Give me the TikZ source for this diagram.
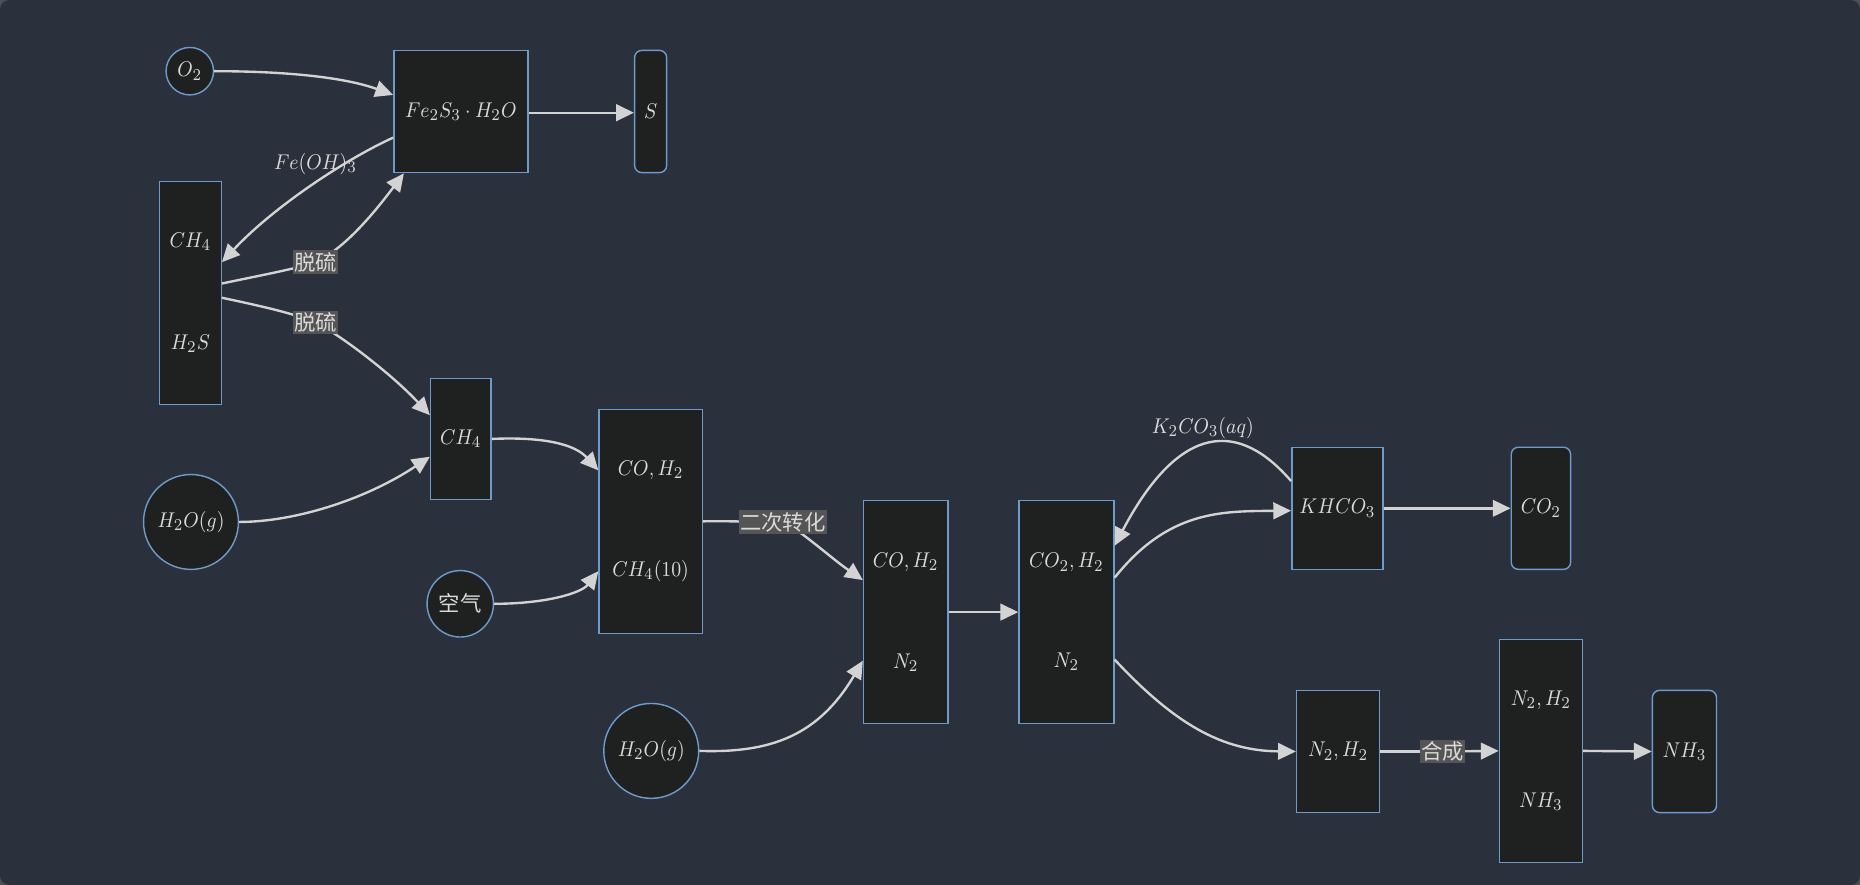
\documentclass[tikz,border=0pt]{standalone}
\usepackage{fontspec}
\newfontfamily\cjk{Noto Sans CJK SC}
\usetikzlibrary{arrows.meta,calc}
\definecolor{bgc}{HTML}{2A303C}
\definecolor{outerc}{HTML}{4A4F58}
\definecolor{nodef}{HTML}{1F2020}
\definecolor{nodeb}{HTML}{6E9BCB}
\definecolor{edgec}{HTML}{D3D3D3}
\definecolor{txtc}{HTML}{DADADA}
\definecolor{lblbg}{HTML}{555555}
\newcommand\fm[1]{\scalebox{0.9}[1]{$#1$}}
\tikzset{
  basebox/.style={draw=nodeb, fill=nodef, line width=0.6pt, inner sep=0pt,
    text=txtc, font=\fontsize{9.3}{10}\selectfont, align=center},
  sqbox/.style={basebox, rectangle},
  rbox/.style={basebox, rectangle, rounded corners=3pt},
  cbox/.style={basebox, circle},
  edge/.style={draw=edgec, line width=1pt, -{Triangle[length=7.5pt,width=7pt]}},
  plain/.style={draw=edgec, line width=1pt},
  elabel/.style={fill=lblbg, text=txtc, inner xsep=0.6pt, inner ysep=0.8pt,
    font=\cjk\fontsize{9}{10}\selectfont},
  mlabel/.style={text=txtc, inner sep=0pt, font=\fontsize{9.3}{10}\selectfont}
}
\begin{document}
\begin{tikzpicture}[x=0.5pt,y=-0.5pt]
\useasboundingbox (0,0) rectangle (1568,746);
\fill[outerc] (0,0) rectangle (1568,746);
\fill[bgc, rounded corners=4pt] (0,0) rectangle (1568,746);

% nodes
\node[cbox, minimum size=20pt] (o2) at (160,60) {\fm{O_2}};
\node[sqbox, minimum width=56.5pt, minimum height=51.5pt] (fe) at (388.5,94) {\fm{Fe_2S_3\cdot H_2O}};
\node[rbox, minimum width=13.5pt, minimum height=51.5pt] (s) at (548.5,94) {\fm{S}};
\node[sqbox, minimum width=26pt, minimum height=94pt] (gas) at (160.5,247) {\fm{CH_4}\\[33pt]\fm{H_2S}};
\node[sqbox, minimum width=25.5pt, minimum height=51pt] (ch4) at (388.5,370) {\fm{CH_4}};
\node[cbox, minimum size=40pt] (wa) at (161,440) {\fm{H_2O(g)}};
\node[sqbox, minimum width=43.5pt, minimum height=94.5pt] (co) at (548.5,439.5) {\fm{CO,H_2}\\[32.5pt]\fm{CH_4(10)}};
\node[cbox, minimum size=28pt, font=\cjk\fontsize{9}{10}\selectfont] (air) at (388,509) {空气};
\node[cbox, minimum size=40pt] (wb) at (549,633) {\fm{H_2O(g)}};
\node[sqbox, minimum width=35.5pt, minimum height=94pt] (con) at (763.5,516) {\fm{CO,H_2}\\[32.5pt]\fm{N_2}};
\node[sqbox, minimum width=40pt, minimum height=94pt] (co2n) at (899,516) {\fm{CO_2,H_2}\\[32pt]\fm{N_2}};
\node[sqbox, minimum width=38.5pt, minimum height=51.5pt] (khco) at (1127.5,428.5) {\fm{KHCO_3}};
\node[rbox, minimum width=25pt, minimum height=51.5pt] (co2) at (1299,428.5) {\fm{CO_2}};
\node[sqbox, minimum width=35pt, minimum height=51.5pt] (nh) at (1128,633.5) {\fm{N_2,H_2}};
\node[sqbox, minimum width=35pt, minimum height=94pt] (syn) at (1299,633) {\fm{N_2,H_2}\\[33pt]\fm{NH_3}};
\node[rbox, minimum width=27pt, minimum height=51.5pt] (nh3) at (1420,633.5) {\fm{NH_3}};

% label anchors
\coordinate (l1) at (266,221);
\coordinate (l2) at (266,272);
\coordinate (l3) at (660,440);
\coordinate (l4) at (1216,633.5);

% edges
\draw[edge] (o2.east) .. controls (240,60) and (290,65) .. ([yshift=7pt]fe.west);
\draw[edge] ([yshift=-0.5pt]fe.east) -- ([yshift=-0.5pt]s.west);
\draw[edge] ([yshift=-11pt]fe.west) .. controls (290,135) and (230,175) .. ([yshift=13pt]gas.east);
\draw[plain] ([yshift=4pt]gas.east) .. controls (220,232) and (248,227) .. (l1);
\draw[edge] (l1) .. controls (290,210) and (315,180) .. ([xshift=-24pt]fe.south);
\draw[plain] ([yshift=-2pt]gas.east) .. controls (225,259) and (250,265) .. (l2);
\draw[edge] (l2) .. controls (285,281) and (330,315) .. ([yshift=10pt]ch4.west);
\draw[edge] (wa.east) .. controls (250,440) and (310,420) .. ([yshift=-7.5pt]ch4.west);
\draw[edge] (ch4.east) .. controls (460,368) and (485,375) .. ([yshift=21.5pt]co.west);
\draw[edge] (air.east) .. controls (460,509) and (490,500) .. ([yshift=-21pt]co.west);
\draw[plain] (co.east) .. controls (610,439) and (630,440) .. (l3);
\draw[edge] (l3) .. controls (675,447) and (700,470) .. ([yshift=13.5pt]con.west);
\draw[edge] (wb.east) .. controls (650,635) and (690,620) .. ([yshift=-20.5pt]con.west);
\draw[edge] (con.east) -- (co2n.west);
\draw[edge] ([yshift=14.5pt]co2n.east) .. controls (985,430) and (1030,431) .. ([yshift=-1pt]khco.west);
\draw[edge] ([yshift=11.5pt]khco.west) .. controls (1045,355) and (995,355) .. ([yshift=28pt]co2n.east);
\draw[edge] (khco.east) -- (co2.west);
\draw[edge] ([yshift=-20pt]co2n.east) .. controls (990,610) and (1030,633) .. (nh.west);
\draw[plain] (nh.east) -- (l4);
\draw[edge] (l4) -- (syn.west);
\draw[edge] (syn.east) -- (nh3.west);

% labels
\node[mlabel] (lfe) at (266,138) {\fm{Fe(OH)_3}};
\node[elabel] (t1) at (l1) {脱硫};
\node[elabel] (t2) at (l2) {脱硫};
\node[elabel] (t3) at (l3) {二次转化};
\node[mlabel] (lk) at (1014,361) {\fm{K_2CO_3(aq)}};
\node[elabel] (t4) at (l4) {合成};
\end{tikzpicture}
\end{document}
